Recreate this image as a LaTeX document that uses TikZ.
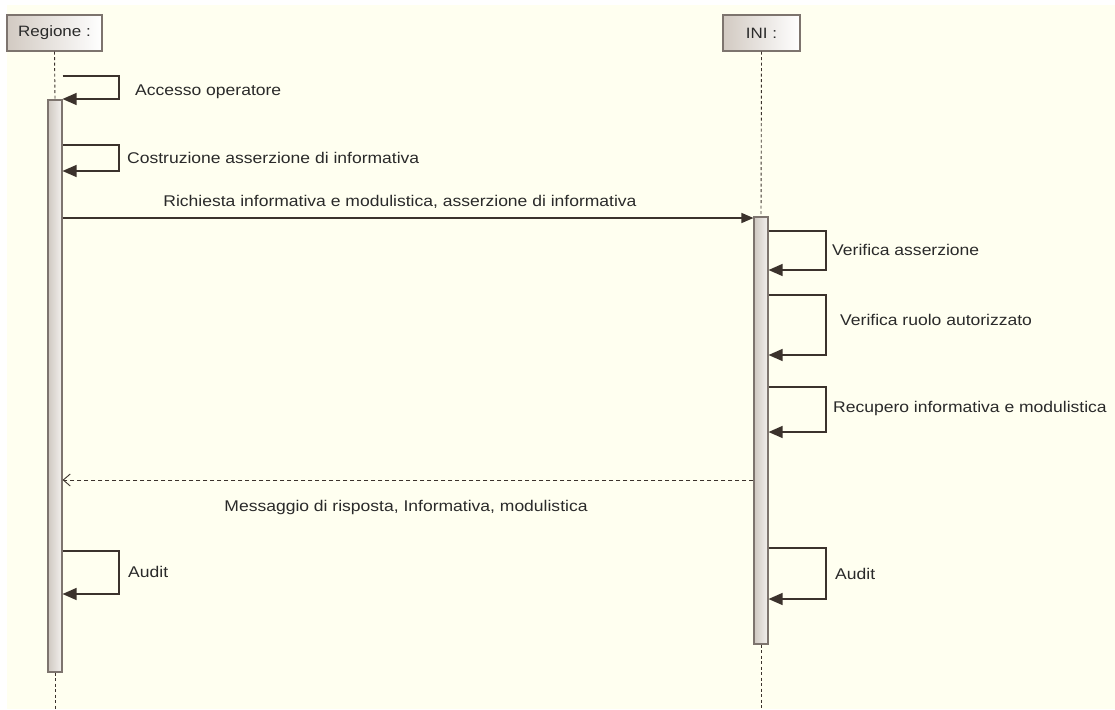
\documentclass[tikz,border=0pt]{standalone}
\usepackage{fontspec}
\setmainfont{Liberation Sans}[FakeStretch=1.13]
\usetikzlibrary{arrows.meta,calc}
\definecolor{bgc}{HTML}{FFFFF0}
\definecolor{linec}{HTML}{3B322C}
\definecolor{framec}{HTML}{7D746E}
\definecolor{boxl}{HTML}{D2CAC2}
\definecolor{barl}{HTML}{CFC8C1}
\definecolor{barr}{HTML}{F3F1EE}
\definecolor{txtc}{HTML}{2A2A2A}
\begin{document}
\begin{tikzpicture}[x=1pt,y=-1pt,
  actor/.style={draw=framec, line width=1.1pt, left color=boxl, right color=white, inner sep=0pt, font=\fontsize{15}{17}\selectfont, text=txtc},
  bar/.style={draw=framec, line width=1.1pt, left color=barl, right color=barr, inner sep=0pt, minimum width=14pt},
  lifeline/.style={draw=linec, dash pattern=on 3pt off 2.5pt, line width=0.9pt},
  msg/.style={draw=linec, line width=1.3pt, -{Triangle[length=14pt,width=12pt]}},
  fwd/.style={draw=linec, line width=1.3pt, -{Triangle[length=12pt,width=10pt]}},
  ret/.style={draw=linec, line width=0.9pt, dash pattern=on 4pt off 3pt, -{Straight Barb[length=7pt,width=12pt,line width=0.9pt]}},
  lbl/.style={font=\fontsize{15.5}{18}\selectfont, text=txtc, inner sep=0pt, anchor=west},
  clbl/.style={font=\fontsize{15.5}{18}\selectfont, text=txtc, inner sep=0pt}
]
\path[use as bounding box, fill=white] (0,0) rectangle (1115,709);
\fill[bgc] (7,5) rectangle (1115,709);

% actors
\node[actor, minimum width=95pt, minimum height=36pt] (reg) at (54.5,33) {Regione :};
\node[actor, minimum width=77pt, minimum height=36pt] (ini) at (761.5,33) {INI :};

% activation bars
\node[bar, minimum height=572pt] (regbar) at (55,386) {};
\node[bar, minimum height=427pt] (inibar) at (761,430.5) {};

% lifelines
\coordinate (regend) at (55,709);
\coordinate (iniend) at (761,709);
\draw[lifeline] (reg.south) -- (regbar.north);
\draw[lifeline] (regbar.south) -- (regend);
\draw[lifeline] (ini.south) -- (inibar.north);
\draw[lifeline] (inibar.south) -- (iniend);

% Regione self messages
\draw[msg] (regbar.east|-0,76) -- (119,76) -- (119,99) -- (regbar.east|-0,99);
\node[lbl] (l1) at (135,92) {Accesso operatore};

\draw[msg] (regbar.east|-0,145) -- (119,145) -- (119,171) -- (regbar.east|-0,171);
\node[lbl] (l2) at (127,158) {Costruzione asserzione di informativa};

% request
\draw[fwd] (regbar.east|-0,218) -- (inibar.west|-0,218);
\node[clbl] (l3) at (400,202) {Richiesta informativa e modulistica, asserzione di informativa};

% INI self messages
\draw[msg] (inibar.east|-0,231) -- (826,231) -- (826,270) -- (inibar.east|-0,270);
\node[lbl] (l4) at (832,250) {Verifica asserzione};

\draw[msg] (inibar.east|-0,295) -- (826,295) -- (826,355) -- (inibar.east|-0,355);
\node[lbl] (l5) at (840,320) {Verifica ruolo autorizzato};

\draw[msg] (inibar.east|-0,387) -- (826,387) -- (826,432) -- (inibar.east|-0,432);
\node[lbl] (l6) at (833,408) {Recupero informativa e modulistica};

% return
\draw[ret] (inibar.west|-0,480) -- (regbar.east|-0,480);
\node[clbl] (l7) at (406,507) {Messaggio di risposta, Informativa, modulistica};

% audits
\draw[msg] (regbar.east|-0,551) -- (119,551) -- (119,594) -- (regbar.east|-0,594);
\node[lbl] (l8) at (128,572) {Audit};

\draw[msg] (inibar.east|-0,548) -- (826,548) -- (826,599) -- (inibar.east|-0,599);
\node[lbl] (l9) at (835,574) {Audit};
\end{tikzpicture}
\end{document}
